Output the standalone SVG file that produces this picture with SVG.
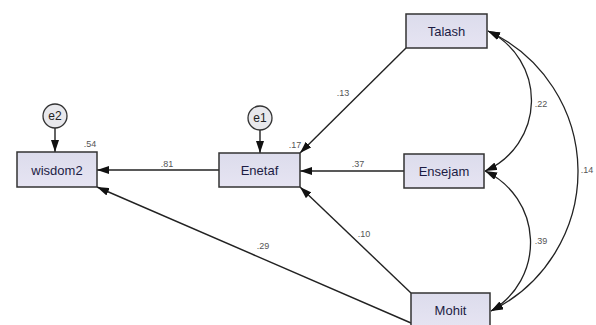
<svg xmlns="http://www.w3.org/2000/svg" width="596" height="325" viewBox="0 0 596 325">
<defs>
<marker id="ah" viewBox="0 0 12 8" refX="12" refY="4" markerWidth="12" markerHeight="8" markerUnits="userSpaceOnUse" orient="auto-start-reverse">
<path d="M0,0 L12,4 L0,8 Z" fill="#111"/>
</marker>
<linearGradient id="g" x1="0" y1="0" x2="0" y2="1">
<stop offset="0" stop-color="#dcdcec"/>
<stop offset="1" stop-color="#e6e4f2"/>
</linearGradient>
</defs>
<style>
.box{fill:url(#g);stroke:#333;stroke-width:1.5}
.err{fill:#e8e8ec;stroke:#333;stroke-width:1.3}
.nt{font-family:"Liberation Sans",Arial,sans-serif;font-size:13px;fill:#1c1c44;text-anchor:middle}
.et{font-family:"Liberation Sans",Arial,sans-serif;font-size:12px;fill:#222;text-anchor:middle}
.lb{font-family:"Liberation Sans",Arial,sans-serif;font-size:9px;fill:#555;text-anchor:middle}
.c{fill:none;stroke:#222;stroke-width:1.4;marker-end:url(#ah)}
.d{fill:none;stroke:#222;stroke-width:1.3;marker-end:url(#ah);marker-start:url(#ah)}
</style>
<rect width="596" height="325" fill="#fff"/>
<g id="connectors">
<line class="c" x1="219" y1="170" x2="97" y2="170"/>
<line class="c" x1="404" y1="171" x2="300" y2="171"/>
<line class="c" x1="406" y1="48" x2="300" y2="153"/>
<line class="c" x1="411" y1="293" x2="300" y2="187"/>
<line class="c" x1="411" y1="323" x2="97" y2="187"/>
<line class="c" x1="260" y1="130" x2="260" y2="153"/>
<line class="c" x1="55" y1="128" x2="55" y2="152"/>
<path class="d" d="M488,31 A77,77 0 0 1 485,171"/>
<path class="d" d="M488,31 A155,155 0 0 1 491,311"/>
<path class="d" d="M485,171 A79,79 0 0 1 491,311"/>
</g>
<g id="labels">
<text class="lb" x="90" y="147">.54</text>
<text class="lb" x="167" y="167">.81</text>
<text class="lb" x="295" y="148">.17</text>
<text class="lb" x="358" y="167">.37</text>
<text class="lb" x="343" y="96">.13</text>
<text class="lb" x="364" y="237">.10</text>
<text class="lb" x="263" y="249">.29</text>
<text class="lb" x="541" y="107">.22</text>
<text class="lb" x="587" y="173">.14</text>
<text class="lb" x="541" y="244">.39</text>
</g>
<g id="wisdom2">
<rect class="box" x="17" y="152" width="80" height="35"/>
<text class="nt" x="57" y="174.5">wisdom2</text>
</g>
<g id="e2">
<circle class="err" cx="55" cy="116" r="12"/>
<text class="et" x="55" y="120">e2</text>
</g>
<g id="Enetaf">
<rect class="box" x="219" y="153" width="81" height="34"/>
<text class="nt" x="259.5" y="175">Enetaf</text>
</g>
<g id="e1">
<circle class="err" cx="260" cy="118" r="12"/>
<text class="et" x="260" y="122">e1</text>
</g>
<g id="Talash">
<rect class="box" x="406" y="14" width="81" height="34"/>
<text class="nt" x="446.5" y="36">Talash</text>
</g>
<g id="Ensejam">
<rect class="box" x="404" y="154" width="80" height="34"/>
<text class="nt" x="444" y="176">Ensejam</text>
</g>
<g id="Mohit">
<rect class="box" x="411" y="293" width="79" height="34"/>
<text class="nt" x="450.5" y="314.5">Mohit</text>
</g>
</svg>
